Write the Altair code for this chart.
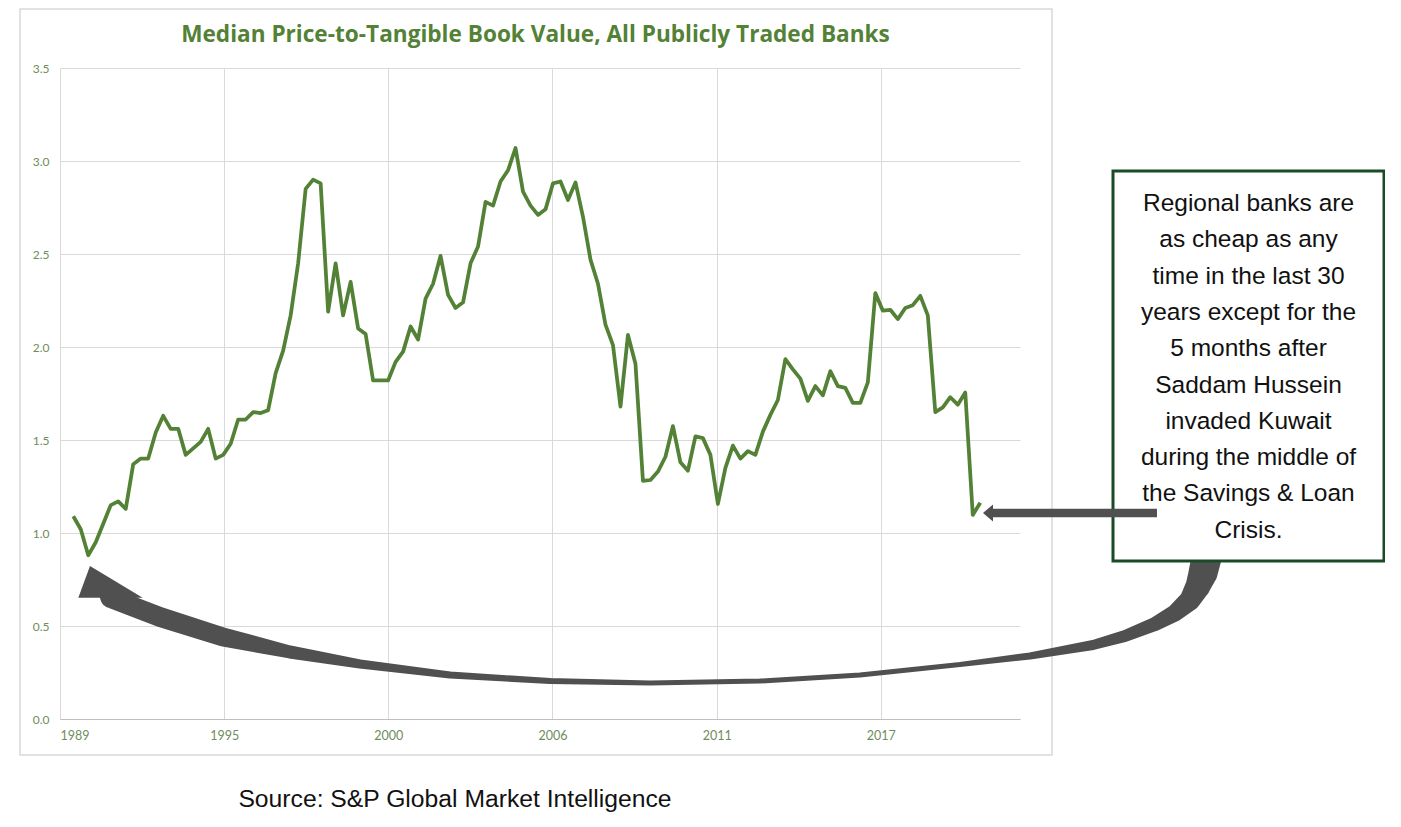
import altair as alt
import pandas as pd

# ---- data ----
ptbv = [1.09, 1.02, 0.88, 0.95, 1.05, 1.15, 1.17, 1.13, 1.37, 1.40,
        1.40, 1.54, 1.63, 1.56, 1.56, 1.42, 1.455, 1.49, 1.56, 1.40,
        1.42, 1.48, 1.61, 1.61, 1.65, 1.645, 1.66, 1.86, 1.98, 2.17,
        2.45, 2.85, 2.90, 2.88, 2.19, 2.45, 2.17, 2.35, 2.10, 2.07,
        1.82, 1.82, 1.82, 1.92, 1.975, 2.11, 2.04, 2.26, 2.34, 2.49,
        2.28, 2.21, 2.24, 2.45, 2.54, 2.78, 2.76, 2.89, 2.95, 3.07,
        2.835, 2.76, 2.71, 2.74, 2.88, 2.89, 2.79, 2.885, 2.70, 2.47,
        2.34, 2.12, 2.01, 1.68, 2.065, 1.91, 1.28, 1.285, 1.33, 1.41,
        1.575, 1.38, 1.335, 1.52, 1.51, 1.42, 1.156, 1.35, 1.47, 1.40,
        1.44, 1.42, 1.545, 1.635, 1.715, 1.935, 1.88, 1.83, 1.71, 1.79,
        1.74, 1.87, 1.79, 1.78, 1.70, 1.70, 1.81, 2.29, 2.195, 2.20,
        2.15, 2.21, 2.225, 2.275, 2.17, 1.65, 1.675, 1.73, 1.69, 1.755,
        1.097, 1.163]
quarter = list(range(len(ptbv)))
x_labels = ["1989", "1995", "2000", "2006", "2011", "2017"]
y_ticks = [0.0, 0.5, 1.0, 1.5, 2.0, 2.5, 3.0, 3.5]

title_text = "Median Price-to-Tangible Book Value, All Publicly Traded Banks"
box_lines = ["Regional banks are", "as cheap as any", "time in the last 30",
             "years except for the", "5 months after", "Saddam Hussein",
             "invaded Kuwait", "during the middle of", "the Savings & Loan",
             "Crisis."]
source_text = "Source: S&P Global Market Intelligence"

# decoration geometry (curved arrow centre line, pixels relative to plot origin)
arrow_px = [1146, 1143, 1138, 1130, 1115, 1095, 1065, 1033, 970, 900, 800, 700, 590,
            490, 390, 300, 230, 163, 100, 50.5, 48]
arrow_py = [492, 505, 518, 532, 545, 556, 568, 577, 588, 596.5, 607, 613, 615,
            613, 607, 596, 584, 569, 549, 530, 522]
arrow_w = [30, 29, 25, 21, 17, 14, 12, 10, 7, 5, 5, 5, 5, 6, 7, 9, 13, 19, 20, 20, 20]

# ---- chart ----
GREEN = "#538135"
LABEL = "#6f8c5c"
GRAY = "#505050"

df = pd.DataFrame({"q": quarter, "v": ptbv})
x0, step = -1.77, 21.9
tick_vals = [x0 + step * i for i in range(len(x_labels))]
label_expr = "[" + ",".join("'%s'" % s for s in x_labels) + "][round((datum.value - (%s)) / %s)]" % (x0, step)

one = pd.DataFrame({"a": [0]})

border = alt.Chart(one).mark_rect(fill=None, stroke="#d9d9d9", strokeWidth=1.5).encode(
    x=alt.value(-40), x2=alt.value(992), y=alt.value(-59), y2=alt.value(687))

line = alt.Chart(df).mark_line(color=GREEN, strokeWidth=3.75, strokeJoin="round").encode(
    x=alt.X("q:Q", scale=alt.Scale(domain=[x0, 126.3], nice=False, zero=False),
            axis=alt.Axis(values=tick_vals, labelExpr=label_expr, title=None, ticks=False,
                          domain=True, domainColor="#bfbfbf", labelPadding=10,
                          grid=True, gridColor="#d9d9d9", labelColor=LABEL,
                          labelFont="Lato", labelFontSize=12.5)),
    y=alt.Y("v:Q", scale=alt.Scale(domain=[0, 3.5], nice=False),
            axis=alt.Axis(values=y_ticks, format=".1f", title=None, ticks=False, domain=False,
                          labelPadding=11, grid=True, gridColor="#d9d9d9", labelColor=LABEL,
                          labelFont="Lato", labelFontSize=12)),
)

adf = pd.DataFrame({"px": arrow_px, "py": arrow_py, "w": arrow_w, "i": list(range(len(arrow_px)))})
curve = alt.Chart(adf).mark_trail(color=GRAY).encode(
    x=alt.X("px:Q", scale=None), y=alt.Y("py:Q", scale=None),
    size=alt.Size("w:Q", scale=None, legend=None), order=alt.Order("i:Q"))

head1 = alt.Chart(one).mark_point(
    shape="M-0.4167,-1L-0.904,0.32L1.779,0.32Z", filled=True, fill=GRAY, opacity=1,
    strokeWidth=0, size=2304).encode(x=alt.value(40), y=alt.value(522))

box = alt.Chart(one).mark_rect(fill="white", stroke="#1b4a27", strokeWidth=3).encode(
    x=alt.value(1053), x2=alt.value(1324), y=alt.value(103), y2=alt.value(493))

shaft = alt.Chart(one).mark_rule(color=GRAY, strokeWidth=8.5, strokeCap="butt").encode(
    x=alt.value(933), x2=alt.value(1097), y=alt.value(445))
head2 = alt.Chart(one).mark_point(
    shape="M-1,0L1,-1.7L1,1.7Z", filled=True, fill=GRAY, opacity=1,
    strokeWidth=0, size=100).encode(x=alt.value(928), y=alt.value(445))

box_text = alt.Chart(one).mark_text(
    text=box_lines, lineHeight=36.3, font="Liberation Sans", fontSize=24.5,
    align="center", baseline="middle", color="#111111").encode(
    x=alt.value(1188.5), y=alt.value(136))

title = alt.Chart(one).mark_text(
    text=title_text, font="Open Sans", fontWeight="bold", fontSize=22.6, color=GREEN,
    align="center", baseline="middle").encode(x=alt.value(475.5), y=alt.value(-33))

source = alt.Chart(one).mark_text(
    text=source_text, font="Liberation Sans", fontSize=24.7, color="#111111",
    align="center", baseline="middle").encode(x=alt.value(395), y=alt.value(732))

chart = alt.layer(border, line, curve, head1, box, shaft, head2, box_text, title, source).properties(
    width=960, height=651,
    autosize=alt.AutoSizeParams(type="none"),
    padding={"left": 52, "top": 60, "right": 365, "bottom": 98},
).configure_view(stroke=None)

chart.save("out.html", embed_options={"renderer": "svg", "actions": False})
